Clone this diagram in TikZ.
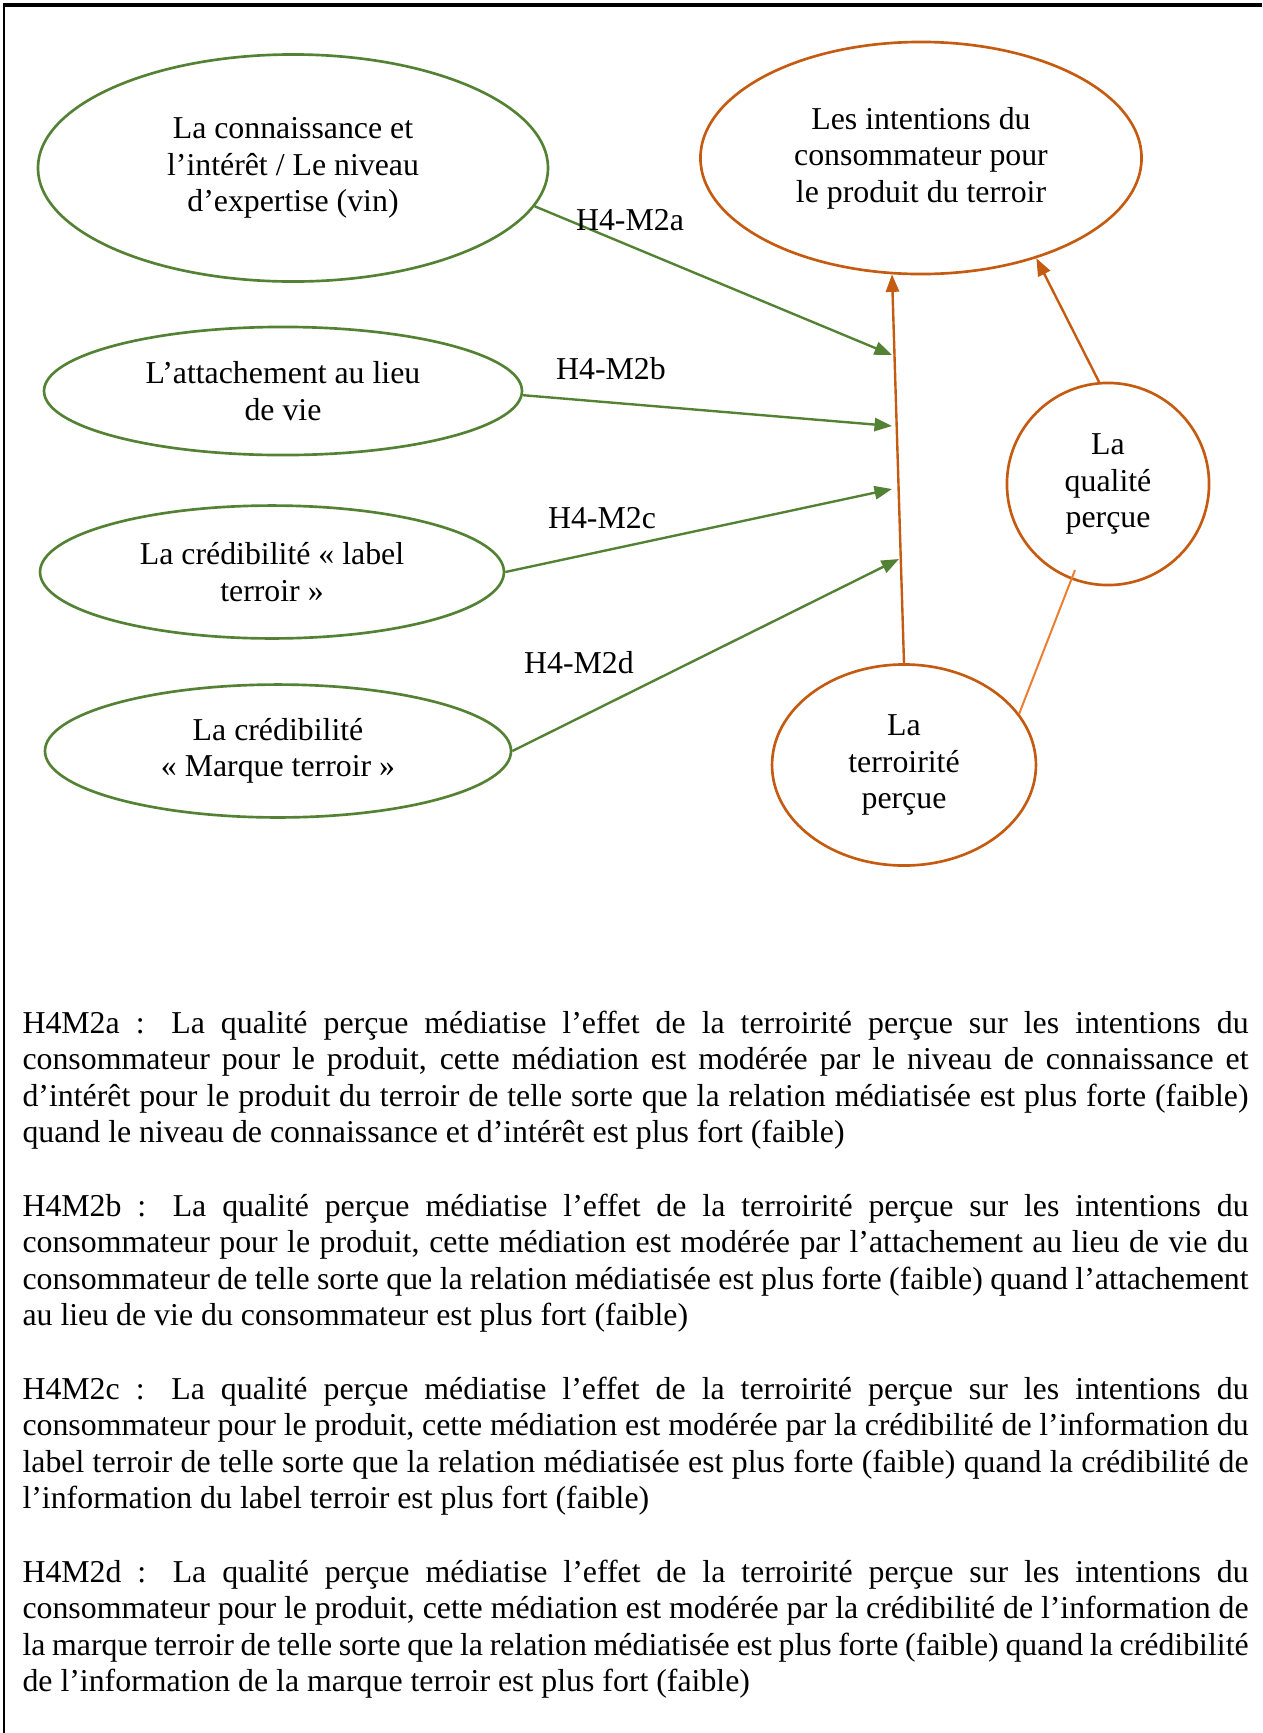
\documentclass[tikz,border=0pt]{standalone}
\usepackage{fontspec}
\setmainfont{Liberation Serif}
\usepackage{tikz}
\usetikzlibrary{shapes.geometric, arrows.meta}
\usepackage{xcolor}
\definecolor{modgreen}{HTML}{548235}
\definecolor{keyorange}{HTML}{C55A11}
\definecolor{softorange}{HTML}{ED7D31}

\begin{document}
\begin{tikzpicture}[x=0.377pt, y=-0.377pt, >={Triangle[length=6.6pt, width=5pt]},
    font=\fontsize{12}{13.8}\selectfont,
    modvar/.style={draw=modgreen, line width=1pt, ellipse, align=center, inner sep=0pt},
    keyvar/.style={draw=keyorange, line width=1pt, ellipse, align=center, inner sep=0pt},
    modarrow/.style={->, color=modgreen, line width=0.9pt},
    keyarrow/.style={->, color=keyorange, line width=0.9pt},
    hyplabel/.style={inner sep=0pt}]
      \useasboundingbox (0,0) rectangle (1262,1733);
      % Frame
      \draw [line width=0.9pt] (4,1733) -- (4,5);
      \draw [line width=1.3pt] (3,5) -- (1262,5);

      % Moderators (green)
      \node [modvar, minimum width=192.3pt, minimum height=85.6pt] (know) at (293,168) {
        La connaissance et\\
        l’intérêt / Le niveau\\
        d’expertise (vin)
      };
      \node [modvar, minimum width=180.2pt, minimum height=48.3pt] (attach) at (283,391) {
        L’attachement au lieu\\
        de vie
      };
      \node [modvar, minimum width=174.9pt, minimum height=50.1pt] (label) at (272,572) {
        La crédibilité « label\\
        terroir »
      };
      \node [modvar, minimum width=175.7pt, minimum height=50.1pt] (brand) at (278,751) {
        La crédibilité\\
        « Marque terroir »
      };

      % Main variables (orange)
      \node [keyvar, minimum width=166.3pt, minimum height=87.5pt] (intent) at (921,158) {
        Les intentions du\\
        consommateur pour\\
        le produit du terroir
      };
      \node [keyvar, circle, minimum size=76.2pt] (quality) at (1108,484) {
        La\\
        qualité\\
        perçue
      };
      \node [keyvar, minimum width=99.5pt, minimum height=75.8pt] (terroir) at (904,765) {
        La\\
        terroirité\\
        perçue
      };

      % Arrow ends on the main path
      \coordinate (hita) at (892,355);
      \coordinate (hitb) at (892,426);
      \coordinate (hitc) at (892,489);
      \coordinate (hitd) at (899,559);
      \coordinate (qualin) at (1075,570);

      % Arrows
      \draw [keyarrow] (terroir.north) -- (intent.-104);
      \draw [keyarrow] (quality.95) -- (intent.-41.6);
      \draw [softorange, line width=0.75pt] (terroir.24) -- (qualin);
      \draw [modarrow] (know.-9) -- (hita);
      \draw [modarrow] (attach.-1) -- (hitb);
      \draw [modarrow] (label.east) -- (hitc);
      \draw [modarrow] (brand.east) -- (hitd);

      % Labels
      \node [hyplabel] (laba) at (630,220) {H4-M2a};
      \node [hyplabel] (labb) at (611,369) {H4-M2b};
      \node [hyplabel] (labc) at (602,518) {H4-M2c};
      \node [hyplabel] (labd) at (579,663) {H4-M2d};

      % Hypotheses
      \node [anchor=base west, text width=462.2pt, align=justify, inner sep=0pt] (hyps) at (22,1033) {%
        \hyphenpenalty=10000
        H4M2a : La qualité perçue médiatise l’effet de la terroirité perçue sur les intentions du\linebreak
        consommateur pour le produit, cette médiation est modérée par le niveau de connaissance et\linebreak
        d’intérêt pour le produit du terroir de telle sorte que la relation médiatisée est plus forte (faible)\linebreak
        quand le niveau de connaissance et d’intérêt est plus fort (faible)\par\vspace{13.8pt}
        H4M2b : La qualité perçue médiatise l’effet de la terroirité perçue sur les intentions du\linebreak
        consommateur pour le produit, cette médiation est modérée par l’attachement au lieu de vie du\linebreak
        consommateur de telle sorte que la relation médiatisée est plus forte (faible) quand l’attachement\linebreak
        au lieu de vie du consommateur est plus fort (faible)\par\vspace{13.8pt}
        H4M2c : La qualité perçue médiatise l’effet de la terroirité perçue sur les intentions du\linebreak
        consommateur pour le produit, cette médiation est modérée par la crédibilité de l’information du\linebreak
        label terroir de telle sorte que la relation médiatisée est plus forte (faible) quand la crédibilité de\linebreak
        l’information du label terroir est plus fort (faible)\par\vspace{13.8pt}
        H4M2d : La qualité perçue médiatise l’effet de la terroirité perçue sur les intentions du\linebreak
        consommateur pour le produit, cette médiation est modérée par la crédibilité de l’information de\linebreak
        la marque terroir de telle sorte que la relation médiatisée est plus forte (faible) quand la crédibilité\linebreak
        de l’information de la marque terroir est plus fort (faible)\par
      };
    \end{tikzpicture}
\end{document}
